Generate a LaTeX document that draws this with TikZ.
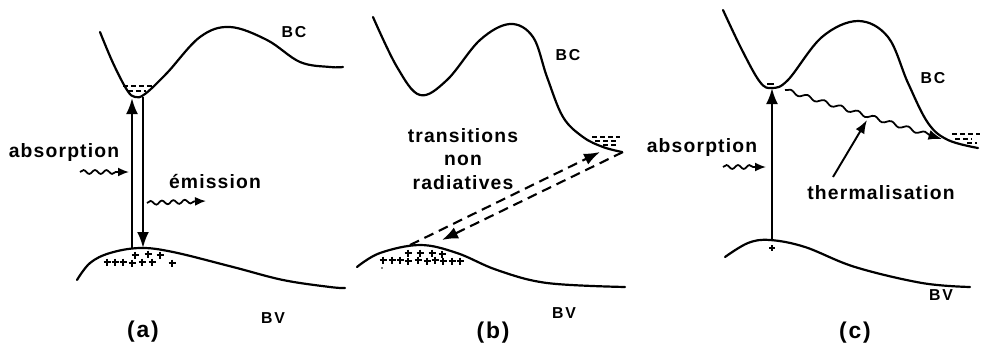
\documentclass[tikz,border=0pt]{standalone}
\usepackage{fontspec}
\setmainfont{Liberation Sans}
\usetikzlibrary{arrows.meta,decorations.pathmorphing}
\begin{document}
\begin{tikzpicture}[x=0.02cm,y=-0.02cm,
  curve/.style={line width=1.25pt, line cap=round},
  lbl/.style={font=\fontsize{11}{13.3}\selectfont\bfseries\addfontfeature{LetterSpace=6}, inner sep=0pt},
  bandlbl/.style={font=\fontsize{9}{11}\selectfont\bfseries\addfontfeature{LetterSpace=12}, inner sep=0pt},
  caplbl/.style={font=\fontsize{13}{15}\selectfont\bfseries\addfontfeature{LetterSpace=8}, inner sep=0pt},
  vert/.style={line width=1.4pt, -{Latex[length=0.32cm,width=0.24cm]}},
  dasharr/.style={line width=1.2pt, dash pattern=on 0.2cm off 0.12cm, -{Latex[length=0.32cm,width=0.24cm]}},
  wavy/.style={line width=1pt, decorate, decoration={snake, amplitude=1.1pt, segment length=6.5pt, post length=0.2cm}, -{Latex[length=0.22cm,width=0.18cm]}},
  carrier/.style={line width=0.9pt, dash pattern=on 0.1cm off 0.06cm},
  plusmark/.style={line width=0.9pt}
]
\useasboundingbox (0,0) rectangle (985,349);

% ---------------- panel (a) ----------------
\draw[curve] plot[smooth, tension=0.6] coordinates {(100,32) (113,63) (127,90) (135,97) (145,94) (167,73) (200,37) (230,27) (267,40) (300,62) (330,67) (343,67)};
\draw[curve] plot[smooth, tension=0.6] coordinates {(77,280) (90,263) (110,253) (140,248) (173,252) (233,267) (283,280) (330,287) (345,288)};
\draw[carrier] (123,86) -- (153,86);
\draw[carrier] (128,91) -- (146,91);
\foreach \x/\y in {135/255,148/254,160/255,107/262,115/262,123/262,132/263,142/262,152/262,172/263}
  \draw[plusmark] (\x-3.5,\y) -- (\x+3.5,\y) (\x,\y-3.5) -- (\x,\y+3.5);
\coordinate (aVB1) at (132,248);
\coordinate (aCB1) at (132,98);
\coordinate (aCB2) at (143,97);
\coordinate (aVB2) at (143,248);
\draw[vert] (aVB1) -- (aCB1);
\draw[vert] (aCB2) -- (aVB2);
\node[lbl] (absA) at (64,152) {absorption};
\coordinate (wa1) at (80,172);
\coordinate (wa2) at (129,172);
\draw[wavy] (wa1) -- (wa2);
\node[lbl] (emiA) at (215,182) {émission};
\coordinate (we1) at (147,203);
\coordinate (we2) at (206,201);
\draw[wavy] (we1) -- (we2);
\node[bandlbl] (bcA) at (294,32) {BC};
\node[bandlbl] (bvA) at (273,318) {BV};
\node[caplbl] (capA) at (143,332) {(a)};

% ---------------- panel (b) ----------------
\draw[curve] plot[smooth, tension=0.6] coordinates {(373,17) (397,67) (420,95) (447,80) (480,40) (510,24) (533,37) (547,77) (563,117) (583,137) (603,147) (622,152)};
\draw[curve] plot[smooth, tension=0.6] coordinates {(357,267) (380,253) (420,245) (457,253) (497,270) (547,283) (625,287)};
\draw[carrier] (592,137) -- (620,137);
\draw[carrier] (595,141) -- (618,141);
\draw[carrier] (603,145) -- (618,145);
\foreach \x/\y in {408/253,420/253,432/253,442/254,383/260,392/260,400/260,408/261,418/260,427/261,435/260,443/261,452/261,460/261}
  \draw[plusmark] (\x-3.5,\y) -- (\x+3.5,\y) (\x,\y-3.5) -- (\x,\y+3.5);
\fill (382,268) circle (0.8);
\coordinate (bVB1) at (410,245);
\coordinate (bCB1) at (600,152);
\coordinate (bCB2) at (623,152);
\coordinate (bVB2) at (442,240);
\draw[dasharr] (bVB1) -- (bCB1);
\draw[dasharr] (bCB2) -- (bVB2);
\node[lbl, align=center] (trB) at (463,159) {transitions\\non\\radiatives};
\node[bandlbl] (bcB) at (568,55) {BC};
\node[bandlbl] (bvB) at (564,313) {BV};
\node[caplbl] (capB) at (493,333) {(b)};

% ---------------- panel (c) ----------------
\draw[curve] plot[smooth, tension=0.6] coordinates {(723,10) (742,50) (760,82) (772,88) (788,80) (822,37) (858,21) (888,37) (908,83) (928,123) (948,140) (978,148)};
\draw[curve] plot[smooth, tension=0.6] coordinates {(725,257) (748,243) (770,240) (805,247) (855,267) (922,283) (970,287)};
\draw[carrier] (952,134) -- (980,134);
\draw[carrier] (955,139) -- (972,139);
\draw[carrier] (967,143) -- (977,143);
\draw[line width=0.9pt] (767,84) -- (774,84);
\draw[plusmark] (769,248) -- (775,248) (772,245) -- (772,251);
\coordinate (cVB) at (772,240);
\coordinate (cCB) at (772,88);
\draw[vert] (cVB) -- (cCB);
\node[lbl] (absC) at (702,147) {absorption};
\coordinate (wc1) at (723,167);
\coordinate (wc2) at (766,167);
\draw[wavy] (wc1) -- (wc2);
\coordinate (th1) at (785,90);
\coordinate (th2) at (942,139);
\draw[line width=1pt, decorate, decoration={snake, segment length=10pt, amplitude=1.1pt, post length=0.25cm}, -{Latex[length=0.27cm,width=0.2cm]}] (th1) -- (th2);
\node[lbl] (thC) at (881,193) {thermalisation};
\coordinate (tp) at (867,120);
\coordinate (tq) at (833,177);
\draw[line width=1.1pt, -{Latex[length=0.27cm,width=0.2cm]}] (tq) -- (tp);
\node[bandlbl] (bcC) at (933,78) {BC};
\node[bandlbl] (bvC) at (941,295) {BV};
\node[caplbl] (capC) at (855,333) {(c)};
\end{tikzpicture}
\end{document}
